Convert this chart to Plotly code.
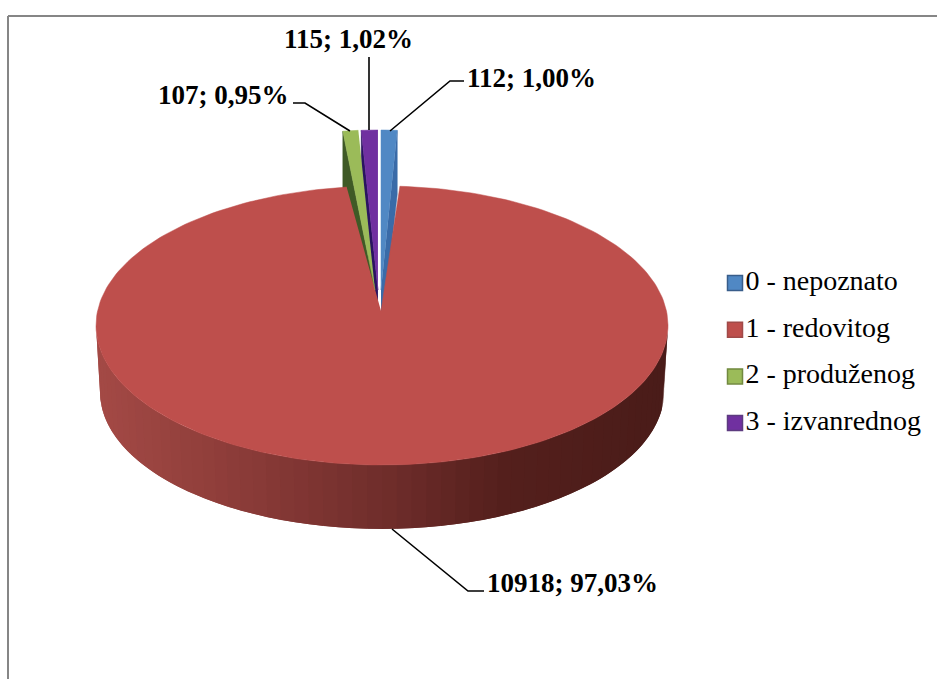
import numpy as np
import plotly.graph_objects as go

categories = ["0 - nepoznato", "1 - redovitog", "2 - produženog", "3 - izvanrednog"]
values = [112, 10918, 107, 115]
top_colors = ["#5088C4", "#BE4F4C", "#9BBB59", "#7030A0"]
side_colors = ["#3A6BA8", "#8C3836", "#3F5A26", "#2A1460"]
legend_borders = ["#385D8A", "#A04A48", "#71893F", "#5C3B7F"]

FONT = "Liberation Serif"
W, H = 937, 679

# pie geometry
CX, CY, RX, RY = 382, 325.5, 286, 139.5
BX, BY, BRX, BRY = 382, 392, 282, 137
RED_APEX = (381, 311)
EX_CX, EX_AY, EX_RX, EX_RY, EX_E, EX_D = 379.5, 290, 260, 160, 48, 50

total = sum(values)
fractions = [v / total for v in values]
edges = np.cumsum([0] + fractions) * 2 * np.pi  # clockwise from 12 o'clock

fig = go.Figure()


def poly(xs, ys, color, width=0.5):
    fig.add_trace(go.Scatter(
        x=list(xs), y=list(ys), mode="lines", fill="toself", fillcolor=color,
        line=dict(color=color, width=width), hoverinfo="skip", showlegend=False))


def wedge(i):
    a0, a1 = edges[i], edges[i + 1]
    mid = (a0 + a1) / 2
    ax = EX_CX + EX_E * np.sin(mid)
    t = np.linspace(a0, a1, 6)
    return ax, ax + EX_RX * np.sin(t), EX_AY - EX_RY * np.cos(t)


def side(i, use_end):
    ax, xs, ys = wedge(i)
    ox, oy = (xs[-1], ys[-1]) if use_end else (xs[0], ys[0])
    poly([ax, ox, ox, ax], [EX_AY, oy, oy + EX_D + 14, EX_AY + EX_D], side_colors[i])


def face(i):
    ax, xs, ys = wedge(i)
    poly([ax, *xs], [EX_AY, *ys], top_colors[i])


# cut faces of the exploded slices sit behind the big slice
side(3, False)
side(2, False)
side(0, True)

# gradient outer wall of the big slice; each band overlaps the next to avoid seams
stops_x = [96, 250, 400, 500, 668]
stops_c = [(164, 74, 70), (138, 59, 56), (109, 44, 42), (85, 32, 29), (74, 28, 25)]
seg = np.linspace(3 * np.pi / 2, np.pi / 2, 61)
step = seg[0] - seg[1]
for a in seg[:-1]:
    t = np.linspace(a, max(a - 2 * step, np.pi / 2), 5)
    xt = CX + RX * np.sin(t)
    yt = CY - RY * np.cos(t)
    xb = BX + BRX * np.sin(t)
    yb = BY - BRY * np.cos(t)
    xm = CX + RX * np.sin(a - step / 2)
    rgb = [int(np.interp(xm, stops_x, [c[k] for c in stops_c])) for k in range(3)]
    poly([*xt, *xb[::-1]], [*yt, *yb[::-1]], "rgb(%d,%d,%d)" % tuple(rgb), width=0)

# top face of the big slice
t = np.linspace(edges[1], edges[2], 240)
poly([RED_APEX[0], *(CX + RX * np.sin(t))], [RED_APEX[1], *(CY - RY * np.cos(t))], top_colors[1])

# top faces of the exploded slices
for i in (2, 3, 0):
    face(i)

# leader lines
leaders = [
    ([390, 450, 464], [131, 81, 81]),
    ([392, 468, 484], [529, 591, 591]),
    ([350, 305, 293], [131, 103, 103]),
    ([369, 369], [130, 57]),
]
for lx, ly in leaders:
    fig.add_trace(go.Scatter(x=lx, y=ly, mode="lines", line=dict(color="#000000", width=1.6),
                             hoverinfo="skip", showlegend=False))

# data labels
label_pos = [(465, 78, "left"), (485, 583, "left"), (291, 95, "right"), (348, 39, "center")]
for v, (x, y, anc) in zip(values, label_pos):
    txt = f"{v}; {v / total * 100:.2f}%".replace(".", ",")
    fig.add_annotation(x=x, y=y, text=f"<b>{txt}</b>", showarrow=False, xanchor=anc, yanchor="middle",
                       font=dict(family=FONT, size=27, color="#000000"))

# legend
leg_y = [283, 329.7, 376.4, 423]
fig.add_trace(go.Scatter(
    x=[735] * 4, y=leg_y, mode="markers+text", text=categories,
    textposition="middle right",
    textfont=dict(family=FONT, size=28, color="#000000"),
    marker=dict(symbol="square", size=15, color=top_colors, line=dict(color=legend_borders, width=1.5)),
    hoverinfo="skip", showlegend=False))

# frame
fig.add_shape(type="line", x0=8, x1=8, y0=16, y1=H, line=dict(color="#868686", width=2))
fig.add_shape(type="line", x0=8, x1=W, y0=16, y1=16, line=dict(color="#868686", width=2))

fig.update_xaxes(range=[0, W], visible=False, fixedrange=True)
fig.update_yaxes(range=[H, 0], visible=False, fixedrange=True)
fig.update_layout(width=W, height=H, margin=dict(l=0, r=0, t=0, b=0),
                  paper_bgcolor="#FFFFFF", plot_bgcolor="#FFFFFF", showlegend=False)
fig.write_html("out.html", config={"displayModeBar": False},
               post_script="document.body.style.margin='0';document.body.style.overflow='hidden';")
